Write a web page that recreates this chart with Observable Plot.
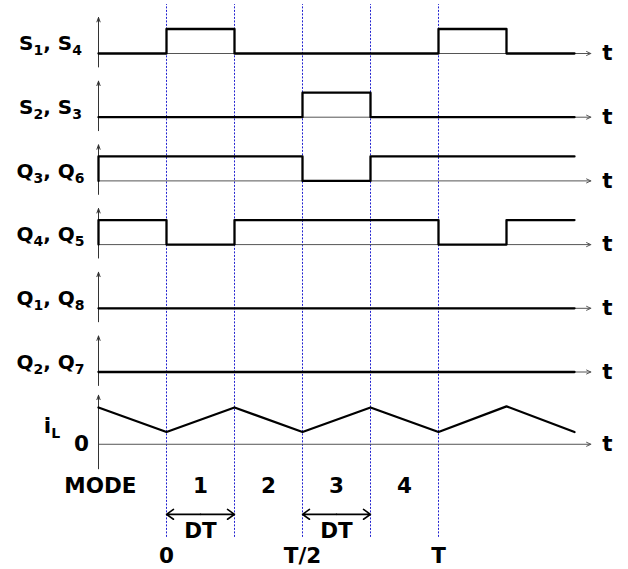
<!DOCTYPE html>
<html><head><meta charset="utf-8">
<script src="https://cdn.jsdelivr.net/npm/d3@7"></script>
<script src="https://cdn.jsdelivr.net/npm/@observablehq/plot@0.6"></script>
<style>body{margin:0;background:#fff}</style>
</head><body><div id="chart"></div>
<script>
// ---- data ----
const times = [-0.25, 0, 0.25, 0.5, 0.75, 1, 1.25, 1.5];
const signalLabels = ["S_1, S_4", "S_2, S_3", "Q_3, Q_6", "Q_4, Q_5", "Q_1, Q_8", "Q_2, Q_7"];
const levelsS14 = [0, 1, 0, 0, 0, 1, 0];
const levelsS23 = [0, 0, 0, 1, 0, 0, 0];
const levelsQ36 = [1, 1, 1, 0, 1, 1, 1];
const levelsQ45 = [1, 0, 1, 1, 1, 0, 1];
const levelsQ18 = [0, 0, 0, 0, 0, 0, 0];
const levelsQ27 = [0, 0, 0, 0, 0, 0, 0];
const iLTimes = [-0.25, 0, 0.25, 0.5, 0.75, 1, 1.25, 1.5];
const iLValues = [1.5, 0.5, 1.5, 0.5, 1.5, 0.5, 1.55, 0.5];
const iLLabel = "i_L";
const iLZero = "0";
const edgeTimes = [0, 0.25, 0.5, 0.75, 1];
const modeLabels = ["1", "2", "3", "4"];
const modeTitle = "MODE";
const dtSpans = [[0, 0.25], [0.5, 0.75]];
const dtLabel = "DT";
const timeTicks = [0, 0.5, 1];
const timeTickLabels = ["0", "T/2", "T"];
const axisLabel = "t";

// ---- layout ----
const allLevels = [levelsS14, levelsS23, levelsQ36, levelsQ45, levelsQ18, levelsQ27];
const rowGap = 2.6;
const tStart = -0.25, tEnd = 1.5, tArrow = 1.56;
const rows = signalLabels.map((label, j) => ({label, base: -j * rowGap, levels: allLevels[j]}));
const iLBase = -(5 * rowGap + 2.95);
const axisRows = [...rows.map(r => ({base: r.base, below: 0.55, above: 1.47})), {base: iLBase, below: 1.0, above: 2.0}];

const wavePts = [];
rows.forEach((r, j) => {
  wavePts.push({s: j, t: tStart, y: r.base});
  r.levels.forEach((v, i) => wavePts.push({s: j, t: times[i], y: r.base + v}));
  wavePts.push({s: j, t: tEnd, y: r.base + r.levels[r.levels.length - 1]});
});
const iLPts = iLTimes.map((t, i) => ({t, y: iLBase + iLValues[i]}));
const modes = modeLabels.map((m, i) => ({m, t: (edgeTimes[i] + edgeTimes[i + 1]) / 2}));
const dtHalves = dtSpans.flatMap(([a, b]) => [{from: (a + b) / 2, to: a}, {from: (a + b) / 2, to: b}]);
const ticks = timeTicks.map((t, i) => ({t, label: timeTickLabels[i]}));

const font = "'DejaVu Sans', 'Noto Sans', sans-serif";
const txt = {fontSize: 20, fontWeight: "bold", fontFamily: font, fill: "#000"};
const big = {...txt, fontSize: 21.5};

const chart = Plot.plot({
  width: 628, height: 569,
  margin: 0,
  x: {domain: [0, 1], range: [166, 438], axis: null},
  y: {domain: [0, 1], range: [53, 28.5], axis: null},
  style: {fontFamily: font, background: "#fff"},
  marks: [
    Plot.ruleX(edgeTimes, {x: d => d, y1: () => iLBase - 3.8, y2: () => 2.0, stroke: "#2222d0", strokeWidth: 1, strokeDasharray: "2,1.5"}),
    Plot.arrow(axisRows, {x1: () => tStart, x2: () => tArrow, y1: d => d.base, y2: d => d.base, stroke: "#555", strokeWidth: 1, headLength: 7, headAngle: 50}),
    Plot.arrow(axisRows, {x1: () => tStart, x2: () => tStart, y1: d => d.base - d.below, y2: d => d.base + d.above, stroke: "#333", strokeWidth: 1, headLength: 7, headAngle: 40}),
    Plot.line(wavePts, {x: "t", y: "y", z: "s", curve: "step-after", stroke: "#000", strokeWidth: 2.3}),
    Plot.line(iLPts, {x: "t", y: "y", stroke: "#000", strokeWidth: 2.3}),
    Plot.arrow(dtHalves, {x1: "from", x2: "to", y1: () => iLBase - 2.86, y2: () => iLBase - 2.86, stroke: "#000", strokeWidth: 1.6, headLength: 8, headAngle: 70}),
    Plot.text(rows, {x: () => -0.4265, y: d => d.base + 0.4, text: "label", textAnchor: "middle", ...txt}),
    Plot.text(axisRows, {x: () => 1.621, y: d => d.base, text: () => axisLabel, textAnchor: "middle", ...big}),
    Plot.text([iLLabel], {x: () => -0.421, y: () => iLBase + 0.73, text: d => d, textAnchor: "middle", ...big}),
    Plot.text([iLZero], {x: () => -0.3125, y: () => iLBase, text: d => d, textAnchor: "middle", ...big}),
    Plot.text([modeTitle], {x: () => -0.243, y: () => iLBase - 1.71, text: d => d, textAnchor: "middle", ...big}),
    Plot.text(modes, {x: "t", y: () => iLBase - 1.71, text: "m", textAnchor: "middle", ...big}),
    Plot.text(dtSpans, {x: d => (d[0] + d[1]) / 2, y: () => iLBase - 3.55, text: () => dtLabel, textAnchor: "middle", ...big}),
    Plot.text(ticks, {x: "t", y: () => iLBase - 4.55, text: "label", textAnchor: "middle", ...big})
  ]
});

// subscripts: "X_n" -> X with subscript n
chart.querySelectorAll("text").forEach(el => {
  const s = el.textContent;
  if (!s.includes("_")) return;
  el.textContent = "";
  const parts = s.split(/_(.)/);
  const ns = "http://www.w3.org/2000/svg";
  let shifted = false;
  parts.forEach((p, i) => {
    if (!p) return;
    const ts = document.createElementNS(ns, "tspan");
    ts.textContent = p;
    if (i % 2 === 1) { ts.setAttribute("font-size", "14"); ts.setAttribute("dy", "5"); shifted = true; }
    else if (shifted) { ts.setAttribute("dy", "-5"); shifted = false; }
    el.appendChild(ts);
  });
});
document.getElementById("chart").appendChild(chart);
</script>
</body></html>
